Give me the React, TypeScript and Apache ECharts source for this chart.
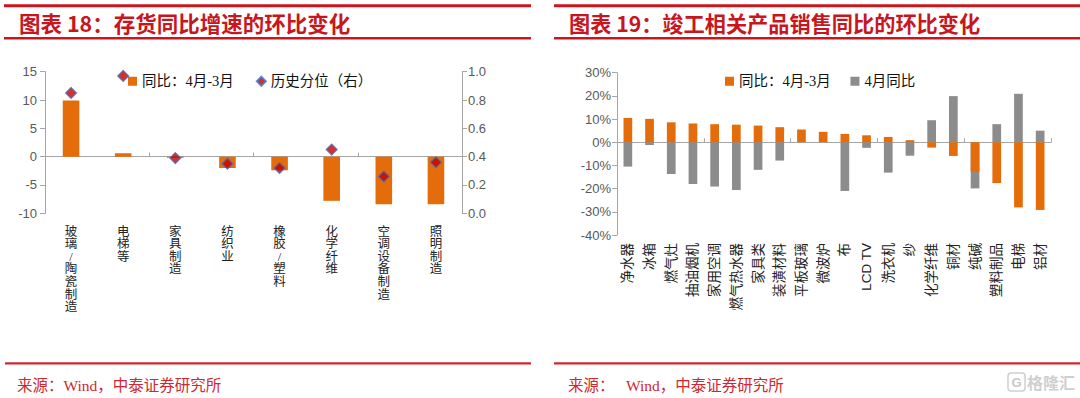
import React, { useEffect, useRef } from "react";
import * as echarts from "echarts";

const cats1 = ["玻璃/陶瓷制造", "电梯等", "家具制造", "纺织业", "橡胶/塑料", "化学纤维", "空调设备制造", "照明制造"];
const chg1 = [9.9, 0.6, -0.2, -2.0, -2.4, -7.8, -8.4, -8.4];
const pct1 = [0.85, 0.97, 0.39, 0.35, 0.32, 0.45, 0.26, 0.36];
const yTicks1 = { min: -10, max: 15, interval: 5 };
const yTicks1r = { min: 0, max: 1, interval: 0.2 };

const cats2 = ["净水器", "冰箱", "燃气灶", "抽油烟机", "家用空调", "燃气热水器", "家具类", "装潢材料", "平板玻璃", "微波炉", "布", "LCD TV", "洗衣机", "纱", "化学纤维", "铜材", "纯碱", "塑料制品", "电梯", "铝材"];
const chg2 = [10.5, 10.1, 8.6, 8.1, 7.8, 7.6, 7.2, 6.5, 5.5, 4.5, 3.6, 3.0, 2.3, 0.9, -2.3, -5.9, -12.7, -17.6, -28.1, -29.2];
const yoy2 = [-10.5, -1.2, -13.7, -18.0, -19.1, -20.6, -11.9, -7.9, null, null, -21.0, -2.4, -13.1, -5.8, 9.5, 19.9, -19.9, 7.8, 20.9, 5.0];
const yTicks2 = { min: -40, max: 30, interval: 10 };

const S1_BAR = "同比：4月-3月";
const S1_PCT = "历史分位（右）";
const S2_CHG = "同比：4月-3月";
const S2_YOY = "4月同比";

const RED = "#C8161E";
const ORANGE = "#E46C0A";
const GRAY = "#8C8C8C";
const AXIS = "#A6A6A6";
const SANS = "'Liberation Sans', Arial, 'Noto Sans CJK SC', sans-serif";
const SERIF = "'Liberation Serif', 'Noto Sans CJK SC', serif";

export default function App() {
  const ref = useRef<HTMLDivElement>(null);
  useEffect(() => {
    if (!ref.current) return;
    const chart = echarts.init(ref.current, undefined, { renderer: "svg" });
    const axisLine = { show: true, lineStyle: { color: AXIS, width: 1 } };
    const yLabel = { color: "#595959", fontSize: 13, fontFamily: SANS };
    const option: any = {
      animation: false,
      backgroundColor: "#fff",
      grid: [
        { left: 45, top: 71.7, width: 417, height: 141.6 },
        { left: 617, top: 72.7, width: 434, height: 162.3 },
      ],
      legend: [
        {
          left: 123,
          top: 69,
          itemWidth: 9,
          itemHeight: 9,
          itemGap: 22,
          textStyle: { fontSize: 14.5, fontFamily: SERIF, color: "#111" },
          data: [
            { name: S1_BAR, icon: "rect" },
            { name: S1_PCT, icon: "diamond" },
          ],
        },
        {
          left: 720,
          top: 69,
          itemWidth: 9,
          itemHeight: 9,
          itemGap: 16,
          textStyle: { fontSize: 14.5, fontFamily: SERIF, color: "#111" },
          data: [
            { name: S2_CHG + " ", icon: "rect" },
            { name: S2_YOY, icon: "rect" },
          ],
        },
      ],
      xAxis: [
        {
          gridIndex: 0,
          type: "category",
          data: cats1,
          position: "bottom",
          axisLine: { show: false, onZero: false },
          axisTick: { show: false },
          axisLabel: {
            margin: 12,
            fontSize: 12.5,
            lineHeight: 12.6,
            color: "#222",
            fontFamily: SERIF,
            verticalAlign: "top",
            formatter: (v: string) => v.split("").join("\n"),
          },
        },
        {
          gridIndex: 0,
          type: "category",
          data: cats1,
          axisLine: { ...axisLine, onZero: true, onZeroAxisIndex: 0 },
          axisTick: { show: true, length: 4, lineStyle: { color: AXIS } },
          axisLabel: { show: false },
        },
        {
          gridIndex: 1,
          type: "category",
          data: cats2,
          position: "bottom",
          axisLine: { show: false, onZero: false },
          axisTick: { show: false },
          axisLabel: {
            rotate: 90,
            margin: 8,
            fontSize: 13.5,
            color: "#222",
            fontFamily: SANS,
            interval: 0,
          },
        },
        {
          gridIndex: 1,
          type: "category",
          data: cats2,
          axisLine: { ...axisLine, onZero: true, onZeroAxisIndex: 2 },
          axisTick: { show: true, length: 4, lineStyle: { color: AXIS } },
          axisLabel: { show: false },
        },
      ],
      yAxis: [
        {
          gridIndex: 0,
          type: "value",
          position: "left",
          ...yTicks1,
          axisLine,
          axisTick: { show: true, length: 5, lineStyle: { color: AXIS } },
          splitLine: { show: false },
          axisLabel: { ...yLabel, margin: 8 },
        },
        {
          gridIndex: 0,
          type: "value",
          position: "right",
          ...yTicks1r,
          axisLine,
          axisTick: { show: true, length: 5, lineStyle: { color: AXIS } },
          splitLine: { show: false },
          axisLabel: { ...yLabel, margin: 6, formatter: (v: number) => v.toFixed(1) },
        },
        {
          gridIndex: 1,
          type: "value",
          position: "left",
          ...yTicks2,
          axisLine,
          axisTick: { show: true, length: 5, lineStyle: { color: AXIS } },
          splitLine: { show: false },
          axisLabel: { ...yLabel, margin: 6, formatter: (v: number) => v + "%" },
        },
      ],
      series: [
        {
          name: S1_BAR,
          type: "bar",
          xAxisIndex: 0,
          yAxisIndex: 0,
          data: chg1,
          barWidth: 16.6,
          itemStyle: { color: ORANGE },
        },
        {
          name: S1_PCT,
          type: "scatter",
          xAxisIndex: 0,
          yAxisIndex: 1,
          data: pct1,
          symbol: "diamond",
          symbolSize: 11,
          z: 6,
          itemStyle: { color: "#C00000", borderColor: "#4472C4", borderWidth: 1.2 },
        },
        {
          name: S2_YOY,
          type: "bar",
          xAxisIndex: 2,
          yAxisIndex: 2,
          data: yoy2,
          barWidth: 8.7,
          barGap: "-100%",
          itemStyle: { color: GRAY },
        },
        {
          name: S2_CHG + " ",
          type: "bar",
          xAxisIndex: 2,
          yAxisIndex: 2,
          data: chg2,
          barWidth: 8.7,
          barGap: "-100%",
          itemStyle: { color: ORANGE },
        },
      ],
      graphic: [
        { type: "rect", shape: { x: 4, y: 4.3, width: 527, height: 3 }, style: { fill: RED }, silent: true },
        { type: "rect", shape: { x: 4, y: 37, width: 527, height: 2.5 }, style: { fill: RED }, silent: true },
        { type: "rect", shape: { x: 554, y: 4.3, width: 526, height: 3 }, style: { fill: RED }, silent: true },
        { type: "rect", shape: { x: 554, y: 37, width: 526, height: 2.5 }, style: { fill: RED }, silent: true },
        {
          type: "text",
          x: 19,
          y: 22,
          style: {
            text: "图表 18：存货同比增速的环比变化",
            fill: RED,
            fontSize: 21.5,
            fontWeight: "bold",
            fontFamily: "'Noto Sans CJK SC', sans-serif",
            verticalAlign: "middle",
          },
        },
        {
          type: "text",
          x: 569,
          y: 22,
          style: {
            text: "图表 19：竣工相关产品销售同比的环比变化",
            fill: RED,
            fontSize: 21.2,
            fontWeight: "bold",
            fontFamily: "'Noto Sans CJK SC', sans-serif",
            verticalAlign: "middle",
          },
        },
        { type: "rect", shape: { x: 5, y: 362.3, width: 526, height: 2.2 }, style: { fill: "#D0282E" }, silent: true },
        { type: "rect", shape: { x: 554, y: 362.3, width: 526, height: 2.2 }, style: { fill: "#D0282E" }, silent: true },
        {
          type: "text",
          x: 17,
          y: 385,
          style: {
            text: "来源：Wind，中泰证券研究所",
            fill: "#D0282E",
            fontSize: 15.5,
            fontFamily: SERIF,
            verticalAlign: "middle",
          },
        },
        {
          type: "text",
          x: 568,
          y: 385,
          style: { text: "来源：", fill: "#D0282E", fontSize: 15.5, fontFamily: SERIF, verticalAlign: "middle" },
        },
        {
          type: "text",
          x: 626,
          y: 385,
          style: {
            text: "Wind，中泰证券研究所",
            fill: "#D0282E",
            fontSize: 15.5,
            fontFamily: SERIF,
            verticalAlign: "middle",
          },
        },
        {
          type: "rect",
          shape: { x: 1008, y: 373, width: 17, height: 18, r: 3 },
          style: { fill: "none", stroke: "#cfcfcf", lineWidth: 1.5 },
          silent: true,
        },
        {
          type: "text",
          x: 1016.5,
          y: 382,
          style: { text: "G", fill: "#c8c8c8", fontSize: 13, fontWeight: "bold", fontFamily: SANS, align: "center", verticalAlign: "middle" },
        },
        {
          type: "text",
          x: 1027,
          y: 382,
          style: { text: "格隆汇", fill: "#cfcfcf", fontSize: 16, fontWeight: "bold", fontFamily: "'Noto Sans CJK SC', sans-serif", verticalAlign: "middle" },
        },
      ],
    };
    chart.setOption(option);
    return () => chart.dispose();
  }, []);
  return (
    <div
      ref={ref}
      style={{ position: "absolute", left: 0, top: 0, width: 1080, height: 398, background: "#fff" }}
    />
  );
}
